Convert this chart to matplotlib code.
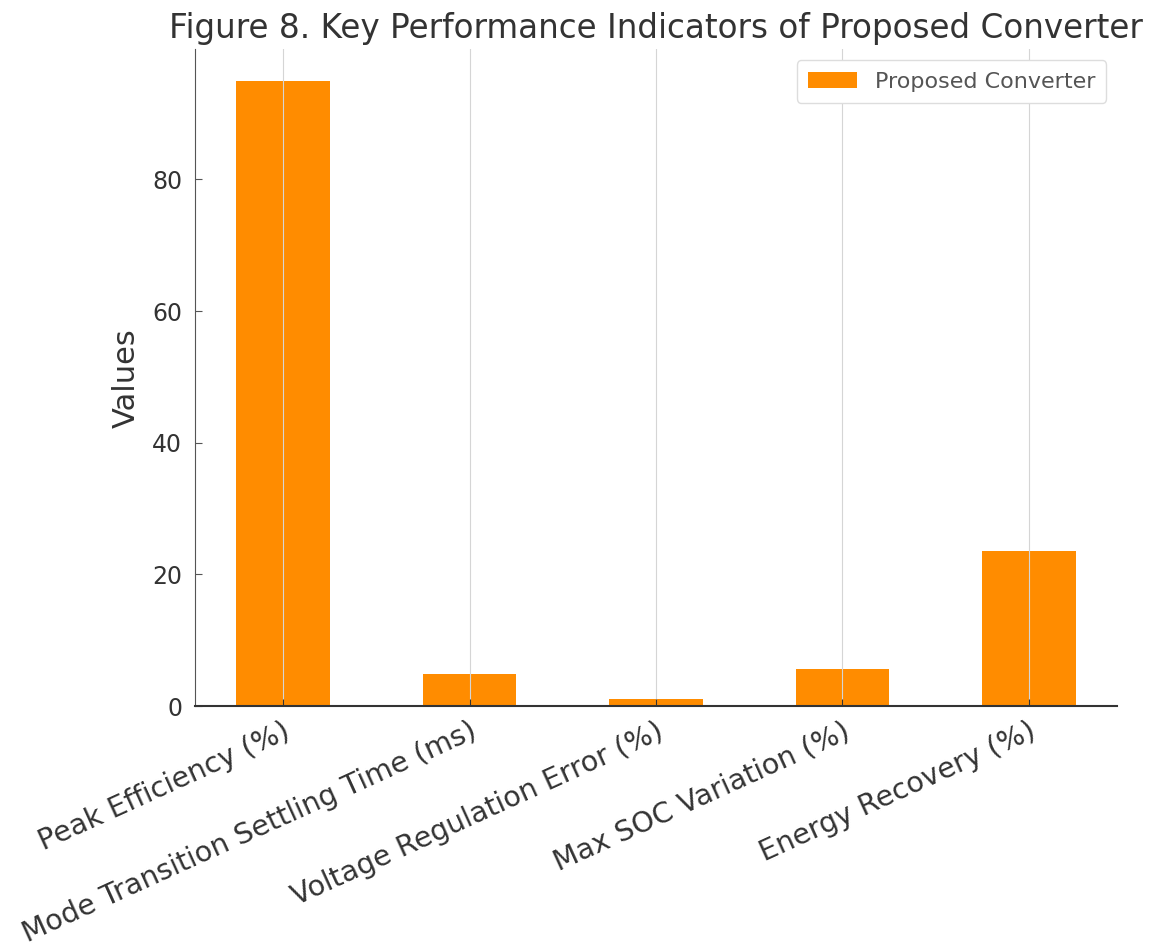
import numpy as np
import matplotlib.pyplot as plt

# KPI values
categories = ['Peak Efficiency (%)', 'Mode Transition Settling Time (ms)',
              'Voltage Regulation Error (%)', 'Max SOC Variation (%)',
              'Energy Recovery (%)']
values = [95.0, 4.9, 1.1, 5.6, 23.6]

fig = plt.figure(figsize=(11.58, 9.49), dpi=100)
ax = fig.add_axes([0.168, 0.256, 0.797, 0.692])

x = np.arange(len(categories))
ax.bar(x, values, width=0.5, color='#FF8C00', label='Proposed Converter')

ax.set_xticks(x)
ax.set_xticklabels(categories, rotation=24.5, ha='right', rotation_mode='anchor',
                   fontsize=20.5, color='#333333')
ax.tick_params(axis='x', direction='in', length=5, color='#333333', pad=8)
ax.tick_params(axis='y', direction='in', length=5, color='#555555', pad=9,
               labelsize=17, labelcolor='#333333')
ax.set_yticks([0, 20, 40, 60, 80])
ax.set_ylabel('Values', fontsize=22, color='#333333', labelpad=8)
ax.set_title('Figure 8. Key Performance Indicators of Proposed Converter',
             fontsize=23.5, color='#333333', pad=8)

ax.grid(axis='x', color='#d5d5d5', linewidth=0.8)
ax.spines['top'].set_visible(False)
ax.spines['right'].set_visible(False)
ax.spines['left'].set_color('#555555')
ax.spines['bottom'].set_color('#333333')
ax.spines['bottom'].set_linewidth(1.5)

leg = ax.legend(fontsize=16, loc='upper right', framealpha=1,
                borderpad=0.5, handlelength=2.2)
leg.get_frame().set_edgecolor('#dddddd')
for t in leg.get_texts():
    t.set_color('#555555')

fig.savefig('out.png', dpi=100)
